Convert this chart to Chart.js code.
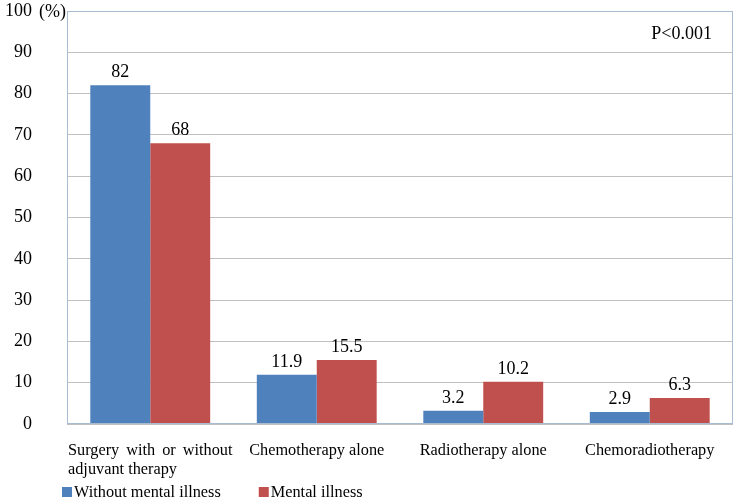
<!DOCTYPE html>
<html>
<head>
<meta charset="utf-8">
<script src="https://cdn.jsdelivr.net/npm/chart.js@4.4.1/dist/chart.umd.min.js"></script>
<style>
  html, body { margin: 0; padding: 0; background: #fff; }
  #wrap { width: 738px; height: 502px; }
</style>
</head>
<body>
<div id="wrap"><canvas id="c" width="738" height="502"></canvas></div>
<script>
'use strict';

const categories = [
    ['Surgery with or without', 'adjuvant therapy'],
    'Chemotherapy alone',
    'Radiotherapy alone',
    'Chemoradiotherapy'
];
const withoutMental = [82, 11.9, 3.2, 2.9];
const mentalIllness = [68, 15.5, 10.2, 6.3];
const yTicks = [0, 10, 20, 30, 40, 50, 60, 70, 80, 90, 100];
const pText = 'P<0.001';

const SERIF = '"Liberation Serif", "Times New Roman", serif';
const BLUE = '#4f81bd';
const RED = '#c0504d';

// etiquetas, legenda, moldura e texto P — tudo posicionado a partir das escalas do Chart.js
const extras = {
    id: 'extras',
    afterDatasetsDraw(chart) {
        const ctx = chart.ctx;
        const area = chart.chartArea;
        const x = chart.scales.x;
        const y = chart.scales.y;

        ctx.save();
        // moldura da área de plotagem
        ctx.strokeStyle = '#a9bbd1';
        ctx.lineWidth = 1;
        ctx.strokeRect(Math.round(area.left) + 0.5, Math.round(area.top) + 0.5,
                       Math.round(area.right - area.left) - 1, Math.round(area.bottom - area.top) - 1);

        // valores acima das barras
        ctx.fillStyle = '#000';
        ctx.font = '18px ' + SERIF;
        ctx.textAlign = 'center';
        ctx.textBaseline = 'alphabetic';
        chart.data.datasets.forEach((ds, di) => {
            chart.getDatasetMeta(di).data.forEach((bar, i) => {
                ctx.fillText(String(ds.data[i]), bar.x, bar.y - 8);
            });
        });

        // "(%)" ao lado do 100
        ctx.textAlign = 'left';
        ctx.textBaseline = 'middle';
        ctx.fillText('(%)', area.left - 28, y.getPixelForValue(100) + 1);

        // P<0.001
        ctx.textAlign = 'right';
        ctx.fillText(pText, area.right - 21, area.top + 23);

        // rótulos das categorias
        ctx.font = '16.3px ' + SERIF;
        ctx.textBaseline = 'alphabetic';
        const half = (area.right - area.left) / categories.length / 2;
        categories.forEach((lab, i) => {
            const cx = x.getPixelForValue(i);
            if (Array.isArray(lab)) {
                // primeira linha justificada, segunda alinhada à esquerda
                const left = cx - half + 1;
                const words = lab[0].split(' ');
                const ww = words.map(w => ctx.measureText(w).width);
                const gap = (2 * half - 2 - ww.reduce((a, b) => a + b, 0)) / (words.length - 1);
                let px = left;
                ctx.textAlign = 'left';
                words.forEach((w, k) => { ctx.fillText(w, px, area.bottom + 31); px += ww[k] + gap; });
                ctx.fillText(lab[1], left, area.bottom + 50);
            } else {
                ctx.textAlign = 'center';
                ctx.fillText(lab, cx, area.bottom + 31);
            }
        });

        // legenda
        let lx = area.left - 5;
        const ly = area.bottom + 73;
        chart.data.datasets.forEach((ds) => {
            ctx.fillStyle = ds.backgroundColor;
            ctx.fillRect(lx, ly - 10, 10, 10);
            ctx.fillStyle = '#000';
            ctx.textAlign = 'left';
            ctx.fillText(ds.label, lx + 12, ly);
            lx += 12 + ctx.measureText(ds.label).width + 38;
        });
        ctx.restore();
    }
};

new Chart(document.getElementById('c').getContext('2d'), {
    type: 'bar',
    data: {
        labels: categories,
        datasets: [
            { label: 'Without mental illness', data: withoutMental, backgroundColor: BLUE,
              categoryPercentage: 0.72, barPercentage: 1.0 },
            { label: 'Mental illness', data: mentalIllness, backgroundColor: RED,
              categoryPercentage: 0.72, barPercentage: 1.0 }
        ]
    },
    options: {
        responsive: false,
        animation: false,
        layout: { padding: { top: 11, right: 5, bottom: 78, left: 0 } },
        plugins: { legend: { display: false }, tooltip: { enabled: false } },
        scales: {
            x: {
                afterFit: (s) => { s.height = 0; },
                grid: { display: false, drawTicks: false },
                border: { display: false },
                ticks: { display: false }
            },
            y: {
                min: 0, max: 100,
                afterFit: (s) => { s.width = 67; s.paddingTop = 0; s.paddingBottom = 0; },
                afterBuildTicks: (s) => { s.ticks = yTicks.map(v => ({ value: v })); },
                grid: { color: '#c0c0c0', drawTicks: false },
                border: { display: false },
                ticks: { color: '#000', padding: 35, font: { family: SERIF, size: 18 } }
            }
        }
    },
    plugins: [extras]
});
</script>
</body>
</html>
